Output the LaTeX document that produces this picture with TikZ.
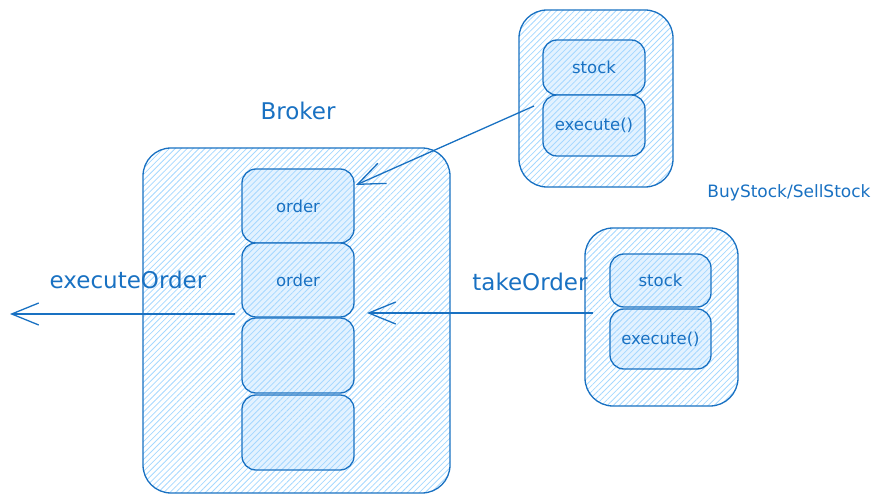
\documentclass[tikz,border=0pt]{standalone}
\usepackage{fontspec}
\setmainfont{DejaVu Sans}
\usetikzlibrary{arrows.meta,patterns.meta}
\definecolor{ink}{HTML}{1971C2}
\definecolor{hatch}{HTML}{A5D8FF}
\definecolor{lightfill}{HTML}{E3F2FF}
\tikzset{
  outerbox/.style={draw=ink, line width=1.3pt, rounded corners=28pt, inner sep=0pt,
    pattern={Lines[angle=45,distance=4.2pt,line width=0.8pt]}, pattern color=hatch},
  innerbox/.style={draw=ink, line width=1.3pt, rounded corners=14pt, inner sep=0pt,
    preaction={fill=lightfill},
    pattern={Lines[angle=45,distance=4.2pt,line width=0.8pt]}, pattern color=hatch,
    font=\fontsize{16.5}{16.5}\selectfont, text=ink},
  biglabel/.style={text=ink, font=\fontsize{23}{23}\selectfont, inner sep=0pt},
  smalllabel/.style={text=ink, font=\fontsize{17}{17}\selectfont, inner sep=0pt},
  conn/.style={draw=ink, line width=1.3pt, -{Straight Barb[length=27pt,width=22pt,line width=1.3pt]}},
}
\begin{document}
\begin{tikzpicture}[x=1pt,y=-1pt]
\useasboundingbox (0,0) rectangle (884,502);
% Broker
\node[outerbox, minimum width=307pt, minimum height=345pt] (broker) at (296.5,320.5) {};
\node[innerbox, minimum width=112pt, minimum height=74pt] (o1) at (298,206) {order};
\node[innerbox, minimum width=112pt, minimum height=74pt] (o2) at (298,280) {order};
\node[innerbox, minimum width=112pt, minimum height=75pt] (o3) at (298,355.5) {};
\node[innerbox, minimum width=112pt, minimum height=75pt] (o4) at (298,432.5) {};
\node[biglabel] (brokerlbl) at (298,111) {Broker};
% top-right command
\node[outerbox, minimum width=154pt, minimum height=177pt] (tr) at (596,98.5) {};
\node[innerbox, minimum width=102pt, minimum height=55pt] (s1) at (594,67.5) {stock};
\node[innerbox, minimum width=102pt, minimum height=61pt] (e1) at (594,125.5) {execute()};
% bottom-right command
\node[outerbox, minimum width=153pt, minimum height=178pt] (br) at (661.5,317) {};
\node[innerbox, minimum width=101pt, minimum height=53pt] (s2) at (660.5,280.5) {stock};
\node[innerbox, minimum width=101pt, minimum height=60pt] (e2) at (660.5,339) {execute()};
% labels
\node[biglabel] (exlbl) at (128,280) {executeOrder};
\node[biglabel] (takelbl) at (530,282) {takeOrder};
\node[smalllabel] (bslbl) at (789,193) {BuyStock/SellStock};
% connectors
\coordinate (exstart) at (235,314);
\coordinate (exend) at (10,314);
\coordinate (takestart) at (593,313);
\coordinate (takeend) at (367,313);
\coordinate (trstart) at (534,106);
\coordinate (trend) at (356,185);
\draw[conn] (exstart) -- (exend);
\draw[conn] (takestart) -- (takeend);
\draw[conn] (trstart) -- (trend);
\end{tikzpicture}
\end{document}
